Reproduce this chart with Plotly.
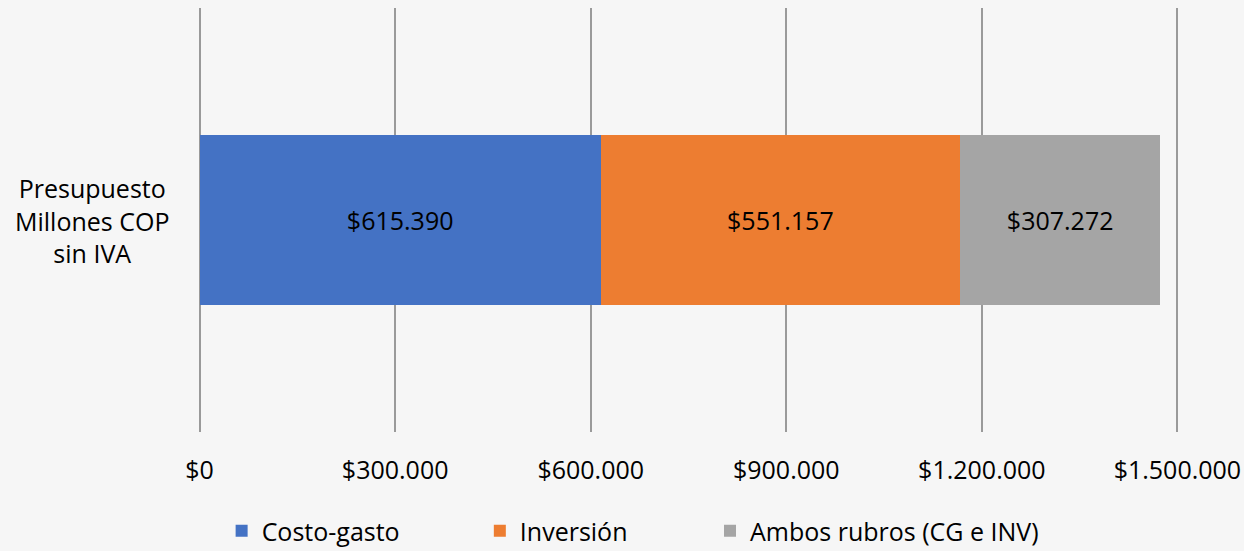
import plotly.graph_objects as go

category = ["Presupuesto Millones COP sin IVA"]
series_names = ["Costo-gasto", "Inversión", "Ambos rubros (CG e INV)"]
series_values = [[615390], [551157], [307272]]
colors = ["#4472C4", "#ED7D31", "#A5A5A5"]
tick_vals = [0, 300000, 600000, 900000, 1200000, 1500000]
tick_text = ["$0", "$300.000", "$600.000", "$900.000", "$1.200.000", "$1.500.000"]

FONT = "Open Sans"
FS = 25
PAD = 4000
W, H = 1244, 551
x0_px, x1_px = 200, 1177
px_per_unit = (x1_px - x0_px) / 1500000
ml = x0_px - PAD * px_per_unit
mr = W - x1_px - PAD * px_per_unit
plot_w = W - ml - mr

legend_names = ["legend", "legend2", "legend3"]
legend_px = [222, 480, 710]
legend_x = [(p - ml) / plot_w for p in legend_px]

fig = go.Figure()
for name, vals, col, lg in zip(series_names, series_values, colors, legend_names):
    fig.add_trace(go.Bar(
        y=category, x=vals, name=name, orientation="h", legend=lg,
        marker=dict(color=col, line=dict(width=0)),
        texttemplate="$%{x:,.0f}", textposition="inside", insidetextanchor="middle",
        textfont=dict(family=FONT, size=FS, color="#000000"),
        hoverinfo="x+name",
    ))

fig.add_annotation(
    text="Presupuesto<br>Millones COP<br>sin IVA", xref="paper", yref="y",
    x=(92 - ml) / plot_w, y=category[0], xanchor="center", yanchor="middle", showarrow=False,
    align="center", font=dict(family=FONT, size=FS, color="#000000"),
)

legend_common = dict(orientation="h", xanchor="left", yref="container",
                     y=1 - 508 / H, yanchor="top",
                     font=dict(family=FONT, size=FS, color="#000000"),
                     itemwidth=30, bgcolor="rgba(0,0,0,0)", borderwidth=0)

fig.update_layout(
    barmode="stack", bargap=0.6,
    separators=",.",
    width=W, height=H,
    paper_bgcolor="#F6F6F6", plot_bgcolor="#F6F6F6",
    margin=dict(l=ml, r=mr, t=8, b=H - 432, autoexpand=False),
    font=dict(family=FONT, size=FS, color="#000000"),
    xaxis=dict(range=[-PAD, 1500000 + PAD], tickvals=tick_vals, ticktext=tick_text,
               showgrid=True, gridcolor="#9A9A9A", gridwidth=2,
               zeroline=True, zerolinecolor="#9A9A9A", zerolinewidth=2,
               showline=False, ticks="", ticklabelstandoff=21,
               tickfont=dict(family=FONT, size=FS, color="#000000")),
    yaxis=dict(showticklabels=False, showgrid=False, zeroline=False, showline=False),
    legend=dict(x=legend_x[0], **legend_common),
    legend2=dict(x=legend_x[1], **legend_common),
    legend3=dict(x=legend_x[2], **legend_common),
    showlegend=True,
)
fig.write_html("out.html", post_script="document.body.style.margin='0';",
               config={"displayModeBar": False})
